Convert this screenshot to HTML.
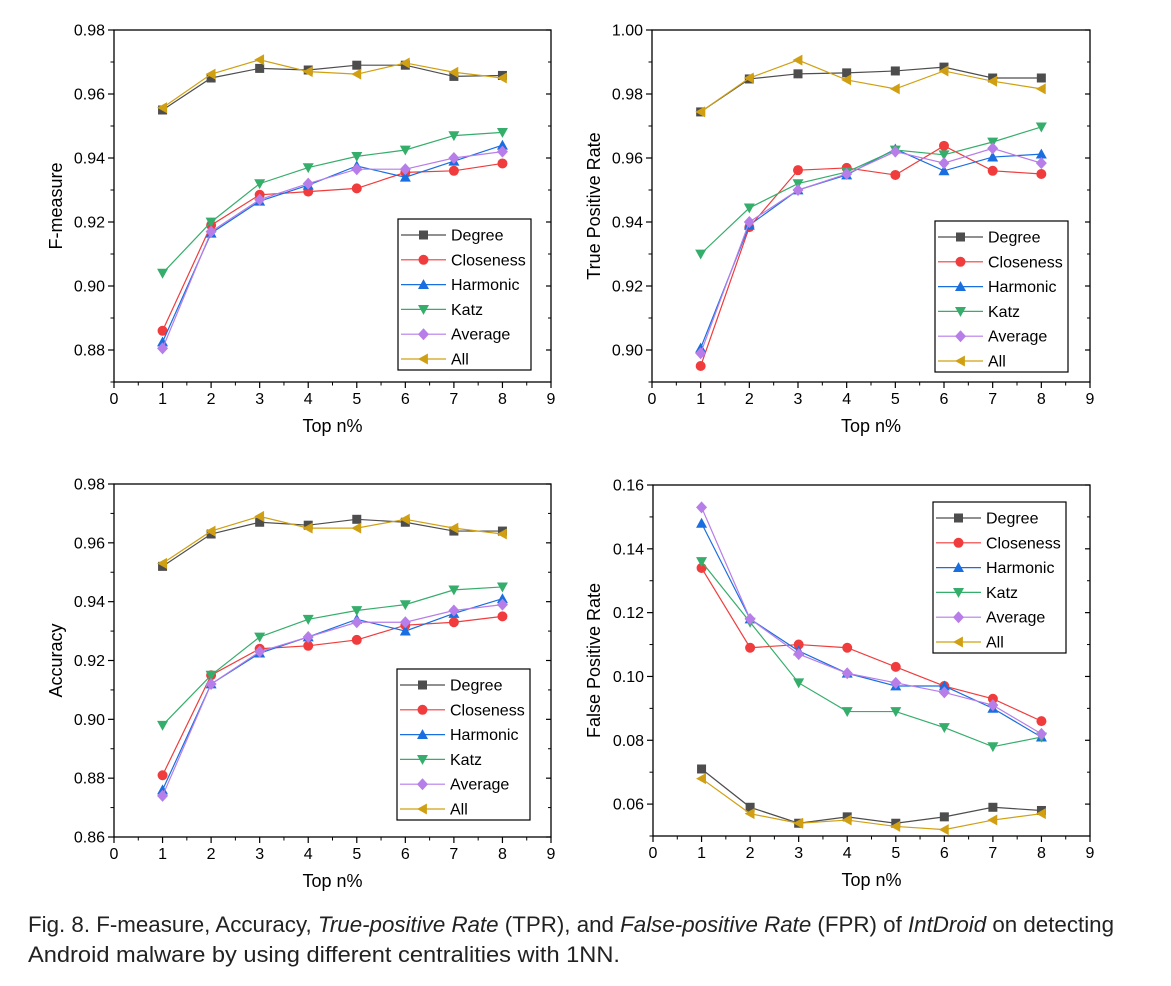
<!DOCTYPE html>
<html><head><meta charset="utf-8"><style>
body{margin:0;background:#fff;}
svg{display:block;font-family:"Liberation Sans",Arial,sans-serif;}
</style></head><body>
<svg id="fig" width="1171" height="986" viewBox="0 0 1171 986" xmlns="http://www.w3.org/2000/svg">
<g id="panels"></g>
<text x="28" y="932" font-size="22" fill="#222" textLength="1086" lengthAdjust="spacingAndGlyphs">Fig. 8.  F-measure, Accuracy, <tspan font-style="italic">True-positive Rate</tspan> (TPR), and <tspan font-style="italic">False-positive Rate</tspan> (FPR) of <tspan font-style="italic">IntDroid</tspan> on detecting</text>
<text x="28" y="962" font-size="22" fill="#222" textLength="592" lengthAdjust="spacingAndGlyphs">Android malware by using different centralities with 1NN.</text>
</svg>
<script>
const categories = [1,2,3,4,5,6,7,8];
const seriesNames = ["Degree","Closeness","Harmonic","Katz","Average","All"];
const xTicks = [0,1,2,3,4,5,6,7,8,9];

const fDegree = [0.955,0.965,0.968,0.9675,0.969,0.969,0.9655,0.9658];
const fCloseness = [0.886,0.919,0.9285,0.9295,0.9305,0.9355,0.936,0.9383];
const fHarmonic = [0.8825,0.9165,0.9265,0.9315,0.9375,0.934,0.939,0.944];
const fKatz = [0.904,0.920,0.932,0.937,0.9405,0.9425,0.947,0.948];
const fAverage = [0.8805,0.917,0.927,0.932,0.9365,0.9365,0.940,0.942];
const fAll = [0.9557,0.9662,0.9707,0.967,0.9662,0.9697,0.9668,0.965];
const fTicks = [0.88,0.90,0.92,0.94,0.96,0.98];

const tDegree = [0.9744,0.9847,0.9863,0.9866,0.9872,0.9884,0.985,0.985];
const tCloseness = [0.895,0.9384,0.9562,0.9569,0.9547,0.9638,0.956,0.955];
const tHarmonic = [0.9006,0.939,0.950,0.9547,0.9628,0.956,0.9603,0.9612];
const tKatz = [0.930,0.9444,0.952,0.9556,0.9625,0.961,0.965,0.9697];
const tAverage = [0.899,0.940,0.950,0.955,0.962,0.9584,0.963,0.9584];
const tAll = [0.9744,0.985,0.9906,0.9844,0.9816,0.9872,0.984,0.9816];
const tTicks = [0.90,0.92,0.94,0.96,0.98,1.00];

const aDegree = [0.952,0.963,0.967,0.966,0.968,0.967,0.964,0.964];
const aCloseness = [0.881,0.915,0.924,0.925,0.927,0.932,0.933,0.935];
const aHarmonic = [0.876,0.912,0.9225,0.928,0.934,0.930,0.936,0.941];
const aKatz = [0.898,0.915,0.928,0.934,0.937,0.939,0.944,0.945];
const aAverage = [0.874,0.912,0.923,0.928,0.933,0.933,0.937,0.939];
const aAll = [0.953,0.964,0.969,0.965,0.965,0.968,0.965,0.963];
const aTicks = [0.86,0.88,0.90,0.92,0.94,0.96,0.98];

const pDegree = [0.071,0.059,0.054,0.056,0.054,0.056,0.059,0.058];
const pCloseness = [0.134,0.109,0.110,0.109,0.103,0.097,0.093,0.086];
const pHarmonic = [0.148,0.118,0.108,0.101,0.097,0.097,0.090,0.081];
const pKatz = [0.136,0.117,0.098,0.089,0.089,0.084,0.078,0.081];
const pAverage = [0.153,0.118,0.107,0.101,0.098,0.095,0.091,0.082];
const pAll = [0.068,0.057,0.054,0.055,0.053,0.052,0.055,0.057];
const pTicks = [0.06,0.08,0.10,0.12,0.14,0.16];

const colors = ["#4d4d4d","#f03c3c","#1a6fe0","#35ad6b","#b77de8","#d0a012"];
const markers = ["square","circle","up","down","diamond","left"];
const NS = "http://www.w3.org/2000/svg";

function el(tag, attrs, parent){const e=document.createElementNS(NS,tag);for(const k in attrs)e.setAttribute(k,attrs[k]);parent.appendChild(e);return e;}

function marker(g,type,cx,cy,color){
  const r=5.5;let m;
  if(type==="square") m=el("rect",{x:cx-4.5,y:cy-4.5,width:9,height:9,fill:color},g);
  else if(type==="circle") m=el("circle",{cx:cx,cy:cy,r:5,fill:color},g);
  else {
    let pts;
    if(type==="up") pts=[[cx,cy-r],[cx+r,cy+r*0.8],[cx-r,cy+r*0.8]];
    else if(type==="down") pts=[[cx,cy+r],[cx+r,cy-r*0.8],[cx-r,cy-r*0.8]];
    else if(type==="diamond") pts=[[cx,cy-r-0.5],[cx+r,cy],[cx,cy+r+0.5],[cx-r,cy]];
    else pts=[[cx-r,cy],[cx+r*0.8,cy-r],[cx+r*0.8,cy+r]];
    m=el("polygon",{points:pts.map(p=>p.join(",")).join(" "),fill:color},g);
  }
  
  
}

function panel(cfg){
  const root=document.getElementById("panels");
  const g=el("g",{},root);
  
  
  const L=cfg.l,R=cfg.r,T=cfg.t,B=cfg.b;
  const xs=v=>L+(v-0)/(9-0)*(R-L);
  const ys=v=>B-(v-cfg.ymin)/(cfg.ymax-cfg.ymin)*(B-T);
  // axes frame
  const fr=el("rect",{x:L,y:T,width:R-L,height:B-T,fill:"none",stroke:"#000","stroke-width":1.3},g);
  
  
  // x ticks
  xTicks.forEach(v=>{
    const x=xs(v);
    el("line",{x1:x,y1:B,x2:x,y2:B+6,stroke:"#000","stroke-width":1.2},g);
    if(v<9){const xm=xs(v+0.5);el("line",{x1:xm,y1:B,x2:xm,y2:B+3.5,stroke:"#000","stroke-width":1},g);}
    const t=el("text",{x:x,y:B+22,"font-size":16,"text-anchor":"middle",fill:"#000"},g);
    t.textContent=String(v);
    
    
  });
  // y ticks
  const step=cfg.ticks[1]-cfg.ticks[0];
  cfg.ticks.forEach(v=>{
    const y=ys(v);
    el("line",{x1:L-6,y1:y,x2:L,y2:y,stroke:"#000","stroke-width":1.2},g);
    el("line",{x1:R-5,y1:y,x2:R,y2:y,stroke:"#000","stroke-width":1.2},g);
    const t=el("text",{x:L-9,y:y+5.5,"font-size":16,"text-anchor":"end",fill:"#000"},g);
    t.textContent=v.toFixed(2);
    
    
  });
  for(let v=cfg.ticks[0]-step/2; v<cfg.ymax+1e-9; v+=step){
    if(v<cfg.ymin-1e-9) continue;
    const y=ys(v);
    el("line",{x1:L-3.5,y1:y,x2:L,y2:y,stroke:"#000","stroke-width":1},g);
    el("line",{x1:R-3,y1:y,x2:R,y2:y,stroke:"#000","stroke-width":1},g);
  }
  const xt=el("text",{x:(L+R)/2,y:B+50,"font-size":18,"text-anchor":"middle",fill:"#000"},g);
  xt.textContent="Top n%";
  
  
  const yc=(T+B)/2;
  const yt=el("text",{x:cfg.ytx,y:yc,"font-size":18,"text-anchor":"middle",fill:"#000",transform:`rotate(-90 ${cfg.ytx} ${yc})`},g);
  yt.textContent=cfg.ytitle;
  
  
  // series
  cfg.series.forEach((vals,i)=>{
    const sg=el("g",{},g);
    
    
    const pts=vals.map((v,j)=>xs(categories[j])+","+ys(v)).join(" ");
    el("polyline",{points:pts,fill:"none",stroke:colors[i],"stroke-width":1.2},sg);
    vals.forEach((v,j)=>marker(sg,markers[i],xs(categories[j]),ys(v),colors[i]));
  });
  // legend
  const lg=el("g",{},g);
  
  
  const lx=cfg.lx,ly=cfg.ly;
  el("rect",{x:lx,y:ly,width:133,height:151,fill:"#fff",stroke:"#000","stroke-width":1.2},lg);
  seriesNames.forEach((n,i)=>{
    const e=el("g",{},lg);
    
    
    const cy=ly+16+i*24.8;
    el("line",{x1:lx+3,y1:cy,x2:lx+48,y2:cy,stroke:colors[i],"stroke-width":1.2},e);
    marker(e,markers[i],lx+25.5,cy,colors[i]);
    const t=el("text",{x:lx+53,y:cy+5.5,"font-size":16,fill:"#000"},e);
    t.textContent=n;
  });
}

panel({name:"f-measure-chart",l:114,r:551,t:30,b:382,ymin:0.87,ymax:0.98,ticks:fTicks,ytitle:"F-measure",ytx:62,
  series:[fDegree,fCloseness,fHarmonic,fKatz,fAverage,fAll],lx:398,ly:219});
panel({name:"tpr-chart",l:652,r:1090,t:30,b:382,ymin:0.89,ymax:1.00,ticks:tTicks,ytitle:"True Positive Rate",ytx:600,
  series:[tDegree,tCloseness,tHarmonic,tKatz,tAverage,tAll],lx:935,ly:221});
panel({name:"accuracy-chart",l:114,r:551,t:484,b:837,ymin:0.86,ymax:0.98,ticks:aTicks,ytitle:"Accuracy",ytx:62,
  series:[aDegree,aCloseness,aHarmonic,aKatz,aAverage,aAll],lx:397,ly:669});
panel({name:"fpr-chart",l:653,r:1090,t:485,b:836,ymin:0.05,ymax:0.16,ticks:pTicks,ytitle:"False Positive Rate",ytx:600,
  series:[pDegree,pCloseness,pHarmonic,pKatz,pAverage,pAll],lx:933,ly:502});
</script>
</body></html>
